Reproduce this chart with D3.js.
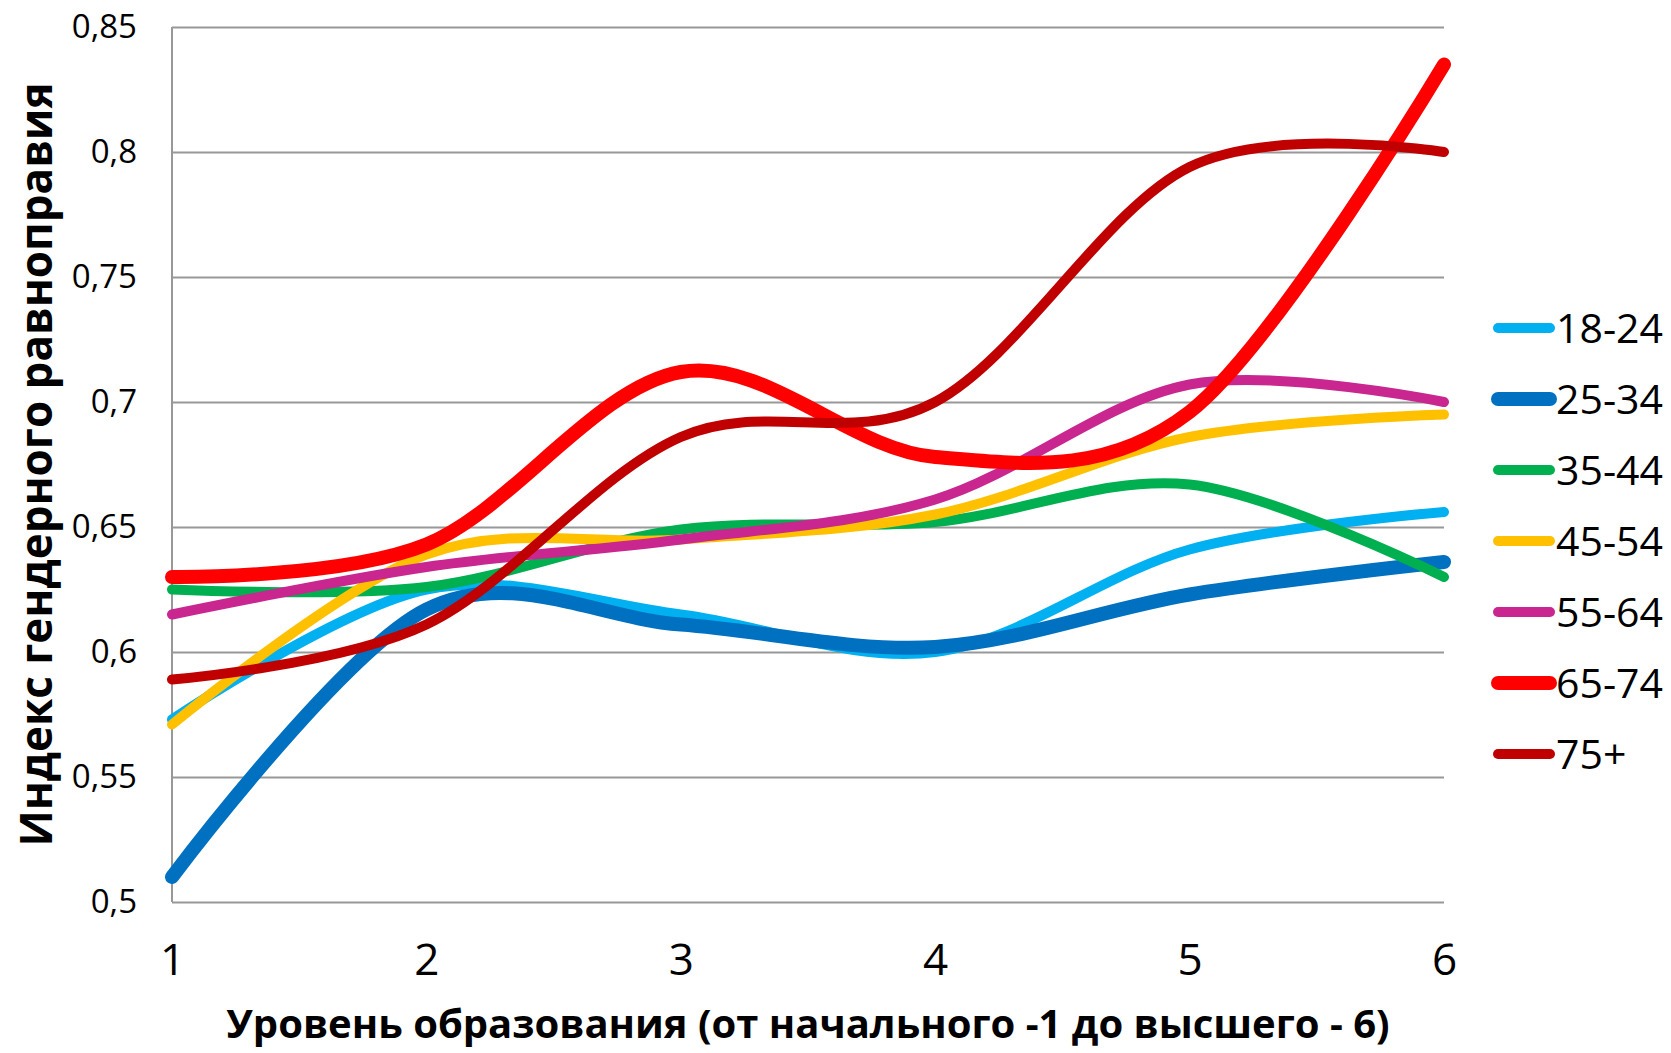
<!DOCTYPE html>
<html>
<head>
<meta charset="utf-8">
<script src="https://cdn.jsdelivr.net/npm/d3@7"></script>
<style>
  body { margin: 0; background: #fff; }
  text { font-family: "Open Sans", sans-serif; fill: #000; }
</style>
</head>
<body>
<div id="graph"></div>
<script>
// education levels (x) and age groups (series)
const levels = [1, 2, 3, 4, 5, 6];
const groups = ["18-24", "25-34", "35-44", "45-54", "55-64", "65-74", "75+"];
const yTicks = [0.5, 0.55, 0.6, 0.65, 0.7, 0.75, 0.8, 0.85];

const s18_24 = [0.573, 0.625, 0.615, 0.600, 0.641, 0.656];
const s25_34 = [0.510, 0.617, 0.611, 0.602, 0.623, 0.636];
const s35_44 = [0.625, 0.626, 0.649, 0.652, 0.667, 0.630];
const s45_54 = [0.571, 0.639, 0.645, 0.655, 0.686, 0.695];
const s55_64 = [0.615, 0.634, 0.645, 0.661, 0.707, 0.700];
const s65_74 = [0.630, 0.643, 0.712, 0.678, 0.696, 0.835];
const s75 = [0.589, 0.611, 0.686, 0.700, 0.794, 0.800];

const colors = ["#00B0F0", "#0070C0", "#00B050", "#FFC000", "#C9268F", "#FF0000", "#C00000"];
const widths = [10, 14, 10, 10, 10, 14, 10];

const series = [s18_24, s25_34, s35_44, s45_54, s55_64, s65_74, s75];

// set the dimensions and margins of the graph
const W = 1671, H = 1053;
const margin = {top: 27, right: 227, bottom: 151, left: 172};
const width = W - margin.left - margin.right;
const height = H - margin.top - margin.bottom;

const svg = d3.select("#graph").append("svg")
    .attr("width", W)
    .attr("height", H);

const g = svg.append("g")
    .attr("transform", "translate(" + margin.left + "," + margin.top + ")");

// set the ranges
const x = d3.scaleLinear().domain([1, 6]).range([0, width]);
const y = d3.scaleLinear().domain([0.5, 0.85]).range([height, 0]);

// gridlines
g.append("g")
    .call(d3.axisLeft(y).tickValues(yTicks).tickSize(-width).tickFormat(""))
    .call(a => a.select(".domain").remove())
    .selectAll("line")
    .attr("stroke", "#989898")
    .attr("stroke-width", 2);

// y axis line
g.append("line")
    .attr("x1", 0).attr("x2", 0)
    .attr("y1", 0).attr("y2", height)
    .attr("stroke", "#989898")
    .attr("stroke-width", 2);

// y tick labels
const yAxis = g.append("g")
    .call(d3.axisLeft(y).tickValues(yTicks).tickSize(0).tickPadding(35)
      .tickFormat(d => String(d).replace(".", ",")));
yAxis.select(".domain").remove();
yAxis.selectAll("text")
    .style("font-family", "'Open Sans', sans-serif")
    .style("font-size", "33px")
    .attr("fill", "#000");

// x tick labels
const xAxis = g.append("g")
    .attr("transform", "translate(0," + height + ")")
    .call(d3.axisBottom(x).tickValues(levels).tickSize(0).tickPadding(42)
      .tickFormat(d3.format("d")));
xAxis.select(".domain").remove();
xAxis.selectAll("text")
    .style("font-family", "'Open Sans', sans-serif")
    .style("font-size", "44px")
    .attr("fill", "#000");

// smoothed lines
const line = d3.line()
    .x((d, i) => x(levels[i]))
    .y(d => y(d))
    .curve(d3.curveCardinal.tension(0));

series.forEach(function(s, i) {
  g.append("path")
      .datum(s)
      .attr("fill", "none")
      .attr("stroke", colors[i])
      .attr("stroke-width", widths[i])
      .attr("stroke-linecap", "round")
      .attr("stroke-linejoin", "round")
      .attr("d", line);
});

// legend
const legend = svg.append("g")
    .attr("transform", "translate(1498,328)");
groups.forEach(function(name, i) {
  const row = legend.append("g").attr("transform", "translate(0," + (i * 71) + ")");
  row.append("line")
      .attr("x1", 0).attr("x2", 52)
      .attr("stroke", colors[i])
      .attr("stroke-width", widths[i])
      .attr("stroke-linecap", "round");
  row.append("text")
      .attr("x", 58)
      .attr("y", 15)
      .style("font-size", "41px")
      .text(name);
});

// axis titles
svg.append("text")
    .attr("x", margin.left + width / 2)
    .attr("y", 1038)
    .attr("text-anchor", "middle")
    .style("font-size", "40px")
    .style("font-weight", "bold")
    .text("Уровень образования (от начального -1 до высшего - 6)");

svg.append("text")
    .attr("transform", "translate(52," + (margin.top + height / 2) + ") rotate(-90)")
    .attr("text-anchor", "middle")
    .style("font-size", "44px")
    .style("font-weight", "bold")
    .text("Индекс гендерного равноправия");
</script>
</body>
</html>
